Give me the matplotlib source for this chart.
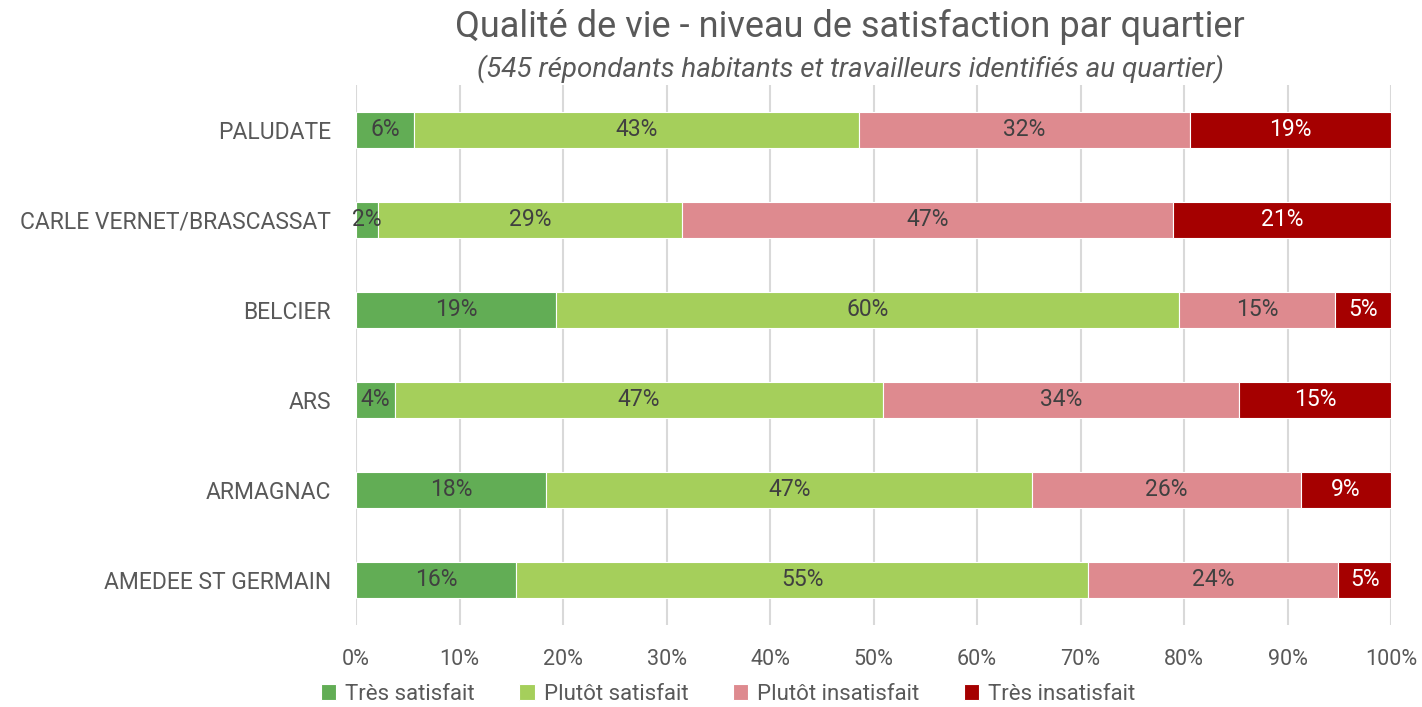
import matplotlib.pyplot as plt
import numpy as np

plt.rcParams['font.family'] = ['Roboto', 'DejaVu Sans']

quartiers = ['AMEDEE ST GERMAIN', 'ARMAGNAC', 'ARS', 'BELCIER',
             'CARLE VERNET/BRASCASSAT', 'PALUDATE']
tres_satisfait = [15.5, 18.4, 3.8, 19.3, 2.1, 5.6]
plutot_satisfait = [55.2, 46.9, 47.1, 60.2, 29.4, 43.0]
plutot_insatisfait = [24.2, 26.0, 34.4, 15.1, 47.4, 32.0]
tres_insatisfait = [5.1, 8.7, 14.7, 5.4, 21.1, 19.4]

series = ['Très satisfait', 'Plutôt satisfait', 'Plutôt insatisfait', 'Très insatisfait']
couleurs = ['#62ad55', '#a5cf5b', '#de8a8f', '#a50000']
couleurs_txt = ['#404040', '#404040', '#404040', 'white']

fig = plt.figure(figsize=(14.22, 7.07), dpi=100)
ax = fig.add_axes([0.2504, 0.116, 0.7278, 0.7638])

y = np.arange(len(quartiers))
left = np.zeros(len(quartiers))
for vals, nom, c, tc in zip([tres_satisfait, plutot_satisfait, plutot_insatisfait, tres_insatisfait],
                            series, couleurs, couleurs_txt):
    vals = np.array(vals)
    bars = ax.barh(y, vals, left=left, height=0.4, color=c, label=nom,
                   edgecolor='white', linewidth=0.8, zorder=2)
    for b, v in zip(bars, vals):
        ax.text(b.get_x() + b.get_width() / 2, b.get_y() + b.get_height() / 2,
                f"{round(v)}%", ha='center', va='center', fontsize=16.5,
                color=tc, zorder=3)
    left += vals

ax.set_xlim(0, 100)
ax.set_ylim(-0.5, len(quartiers) - 0.5)
ax.set_yticks(y)
ax.set_yticklabels(quartiers, fontsize=16.5, color='#595959')
ax.set_xticks(np.arange(0, 101, 10))
ax.set_xticklabels([f"{t}%" for t in range(0, 101, 10)], fontsize=15.5, color='#595959')
ax.tick_params(axis='y', length=0, pad=18)
ax.tick_params(axis='x', length=0, pad=17)
ax.grid(axis='x', color='#d9d9d9', linewidth=1.5, zorder=0)
for s in ax.spines.values():
    s.set_visible(False)

fig.text(0.598, 0.962, 'Qualité de vie - niveau de satisfaction par quartier',
         ha='center', va='center', fontsize=26, color='#595959')
fig.text(0.598, 0.903, '(545 répondants habitants et travailleurs identifiés au quartier)',
         ha='center', va='center', fontsize=20, style='italic', color='#595959')

fig.legend(loc='center', bbox_to_anchor=(0.512, 0.018), ncol=4, frameon=False,
           fontsize=16, handlelength=0.7, handleheight=0.7, handletextpad=0.4,
           columnspacing=2.0, labelcolor='#595959')

fig.savefig('out.png', dpi=100)
